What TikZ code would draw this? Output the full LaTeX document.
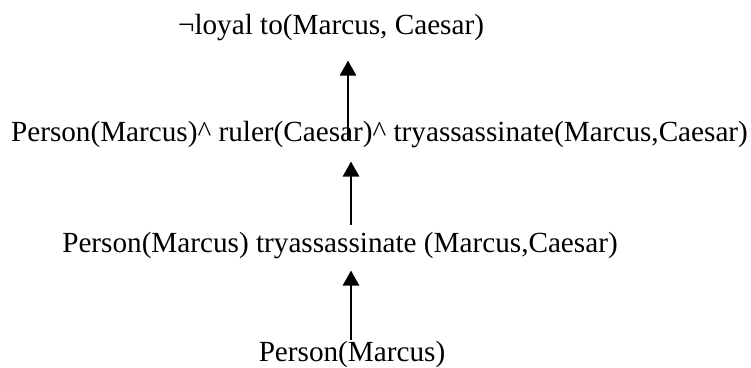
\documentclass[tikz,border=0pt]{standalone}
\usepackage{fontspec}
\setmainfont{Liberation Serif}
\usetikzlibrary{arrows.meta}

\tikzset{
  stmt/.style={inner sep=0pt, anchor=base, font=\fontsize{29.2}{35}\selectfont},
  infer/.style={line width=2.6pt, -{Triangle[width=16pt,length=15pt]}}
}

\begin{document}
\begin{tikzpicture}[x=1pt, y=-1pt]
  \useasboundingbox[fill=white] (0,0) rectangle (751,367);

  % proof chain, goal at the top
  \node[stmt] (goal) at (331,34)    {¬loyal to(Marcus, Caesar)};
  \node[stmt] (conj) at (379.5,141) {Person(Marcus)\textasciicircum{} ruler(Caesar)\textasciicircum{} tryassassinate(Marcus,Caesar)};
  \node[stmt] (try)  at (340,252)   {Person(Marcus) tryassassinate (Marcus,Caesar)};
  \node[stmt] (fact) at (352,361)   {Person(Marcus)};

  % inference steps
  \draw[infer] ([xshift=-31.5pt,yshift=1pt]conj.base) -- ([xshift=17pt,yshift=-20pt]goal.south);
  \draw[infer] ([xshift=11pt,yshift=7pt]try.north) -- ([xshift=-28.5pt,yshift=-14pt]conj.south);
  \draw[infer] ([xshift=-1pt,yshift=1pt]fact.north) -- ([xshift=11pt,yshift=-12pt]try.south);
\end{tikzpicture}
\end{document}
